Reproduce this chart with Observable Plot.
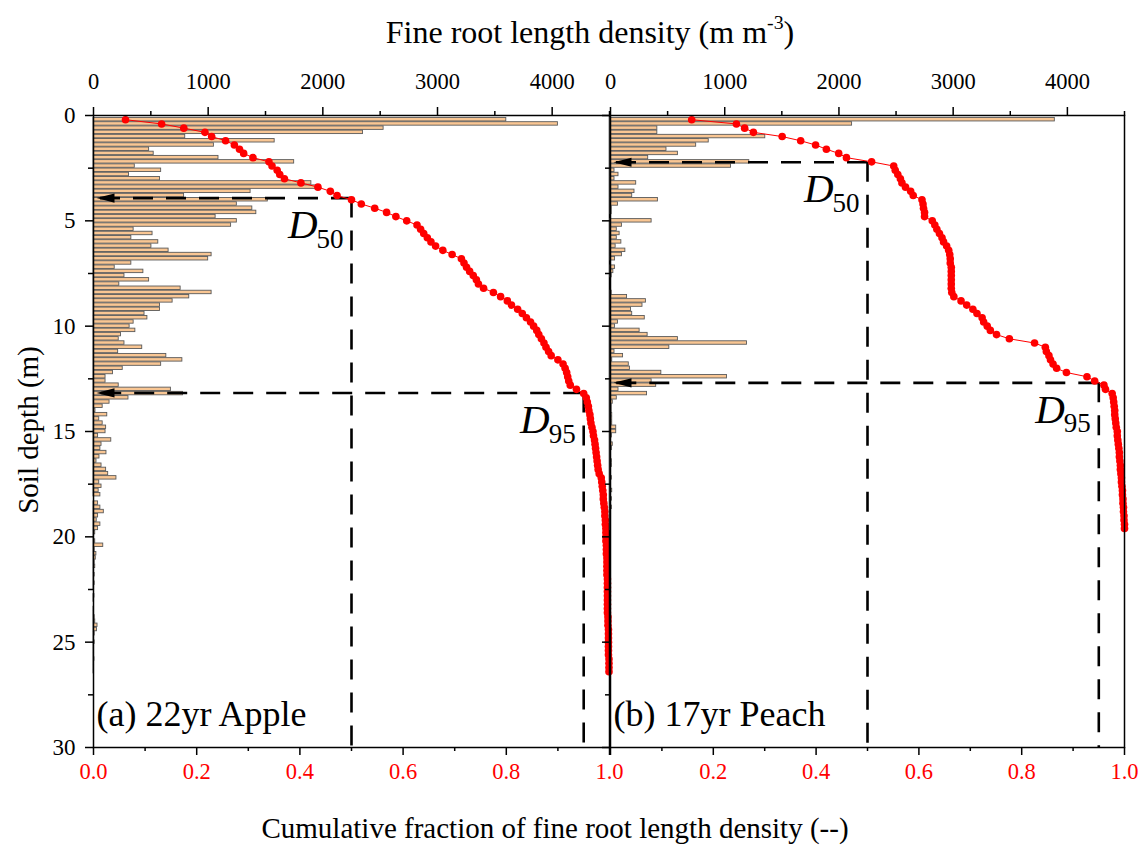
<!DOCTYPE html>
<html><head><meta charset="utf-8">
<script src="https://cdn.jsdelivr.net/npm/d3@7"></script>
<script src="https://cdn.jsdelivr.net/npm/@observablehq/plot@0.6"></script>
<style>
body{margin:0;background:#fff;font-family:"Liberation Serif","Times New Roman",serif;}
#wrap{position:relative;width:1145px;height:845px;overflow:hidden;}
.t{position:absolute;white-space:nowrap;color:#000;font-family:"Liberation Serif","Times New Roman",serif;}
.t sup{font-size:0.62em;vertical-align:0.7em;line-height:0;}
#pa,#pb{position:absolute;top:0;}
#pa{left:0;} #pb{left:600px;}
</style></head><body><div id="wrap">
<div class="t" id="ttop" style="left:590px;top:32px;transform:translate(-50%,-50%);font-size:32px;">Fine root length density (m m<sup>-3</sup>)</div>
<div class="t" id="tleft" style="left:28px;top:430px;transform:translate(-50%,-50%) rotate(-90deg);font-size:29px;">Soil depth (m)</div>
<div class="t" id="tbot" style="left:555px;top:828px;transform:translate(-50%,-50%);font-size:29px;">Cumulative fraction of fine root length density (--)</div>
<div id="pa"></div><div id="pb"></div>
</div>
<script>
// ---------- data ----------
const appleDepth = [
0.2,0.4,0.6,0.8,1.0,1.2,1.4,1.6,1.8,2.0,
2.2,2.4,2.6,2.8,3.0,3.2,3.4,3.6,3.8,4.0,
4.2,4.4,4.6,4.8,5.0,5.2,5.4,5.6,5.8,6.0,
6.2,6.4,6.6,6.8,7.0,7.2,7.4,7.6,7.8,8.0,
8.2,8.4,8.6,8.8,9.0,9.2,9.4,9.6,9.8,10.0,
10.2,10.4,10.6,10.8,11.0,11.2,11.4,11.6,11.8,12.0,
12.2,12.4,12.6,12.8,13.0,13.2,13.4,13.6,13.8,14.0,
14.2,14.4,14.6,14.8,15.0,15.2,15.4,15.6,15.8,16.0,
16.2,16.4,16.6,16.8,17.0,17.2,17.4,17.6,17.8,18.0,
18.2,18.4,18.6,18.8,19.0,19.2,19.4,19.6,19.8,20.0,
20.2,20.4,20.6,20.8,21.0,21.2,21.4,21.6,21.8,22.0,
22.2,22.4,22.6,22.8,23.0,23.2,23.4,23.6,23.8,24.0,
24.2,24.4,24.6,24.8,25.0,25.2,25.4,25.6,25.8,26.0,
26.2,26.4];
const appleDensity = [
3600,4050,2530,2350,800,1580,1050,485,525,1090,
1750,360,590,310,580,1900,1950,1370,790,1520,
1250,1385,1420,1065,1250,1200,350,515,330,565,
505,655,1030,1000,330,185,435,270,485,225,
760,1030,835,690,580,580,445,470,350,315,
365,240,220,270,425,215,635,775,590,255,
170,105,105,220,675,780,305,140,80,17,
120,50,80,110,105,40,155,70,60,113,
52,26,70,110,128,200,50,70,45,60,
0,40,60,90,40,28,60,40,15,5,
15,85,10,25,20,10,15,5,10,5,
10,5,0,8,5,0,5,5,10,15,
35,30,10,5,10,5,5,5,8,5,
5,5];
const appleCumulative = [
0.062,0.132,0.175,0.216,0.229,0.256,0.273,0.283,0.291,0.309,
0.340,0.346,0.356,0.361,0.370,0.402,0.435,0.459,0.472,0.500,
0.519,0.545,0.568,0.586,0.607,0.627,0.634,0.640,0.647,0.654,
0.663,0.677,0.695,0.713,0.718,0.723,0.729,0.736,0.742,0.746,
0.756,0.775,0.789,0.802,0.810,0.822,0.831,0.839,0.847,0.853,
0.859,0.863,0.868,0.873,0.877,0.882,0.887,0.900,0.910,0.914,
0.917,0.919,0.921,0.924,0.936,0.950,0.955,0.957,0.959,0.960,
0.962,0.963,0.964,0.966,0.968,0.969,0.971,0.972,0.973,0.974,
0.975,0.976,0.977,0.978,0.980,0.984,0.985,0.986,0.987,0.988,
0.988,0.989,0.990,0.991,0.991,0.992,0.992,0.993,0.993,0.993,
0.993,0.994,0.994,0.994,0.995,0.995,0.995,0.995,0.995,0.996,
0.996,0.996,0.996,0.996,0.996,0.996,0.996,0.996,0.997,0.997,
0.997,0.998,0.998,0.998,0.998,0.998,0.998,0.998,0.999,0.999,
0.999,0.999];

const peachDepth = [
0.2,0.4,0.6,0.8,1.0,1.2,1.4,1.6,1.8,2.0,
2.2,2.4,2.6,2.8,3.0,3.2,3.4,3.6,3.8,4.0,
4.2,4.4,4.6,4.8,5.0,5.2,5.4,5.6,5.8,6.0,
6.2,6.4,6.6,6.8,7.0,7.2,7.4,7.6,7.8,8.0,
8.2,8.4,8.6,8.8,9.0,9.2,9.4,9.6,9.8,10.0,
10.2,10.4,10.6,10.8,11.0,11.2,11.4,11.6,11.8,12.0,
12.2,12.4,12.6,12.8,13.0,13.2,13.4,13.6,13.8,14.0,
14.2,14.4,14.6,14.8,15.0,15.2,15.4,15.6,15.8,16.0,
16.2,16.4,16.6,16.8,17.0,17.2,17.4,17.6,17.8,18.0,
18.2,18.4,18.6,18.8,19.0,19.2,19.4,19.6];
const peachDensity = [
3890,2115,410,410,1355,860,750,490,590,330,
1215,1055,35,70,35,225,70,210,190,415,
65,10,10,0,360,100,55,80,55,95,
45,130,100,40,0,40,25,10,0,0,
0,10,145,310,280,180,190,300,65,40,
255,325,590,1195,515,35,110,15,160,170,
445,1020,360,400,70,320,55,20,10,10,
15,15,15,50,50,12,5,20,12,5,
5,12,12,5,5,12,5,5,15,5,
12,5,12,5,5,5,5,5];
const peachCumulative = [
0.158,0.245,0.261,0.278,0.334,0.370,0.399,0.420,0.444,0.459,
0.508,0.551,0.554,0.559,0.564,0.567,0.574,0.584,0.589,0.606,
0.608,0.609,0.611,0.611,0.626,0.631,0.635,0.640,0.645,0.648,
0.654,0.658,0.660,0.661,0.661,0.663,0.663,0.663,0.663,0.663,
0.663,0.664,0.668,0.682,0.693,0.705,0.713,0.723,0.726,0.733,
0.739,0.751,0.776,0.825,0.846,0.848,0.853,0.856,0.861,0.868,
0.887,0.927,0.942,0.960,0.963,0.976,0.978,0.979,0.980,0.981,
0.981,0.982,0.983,0.984,0.986,0.986,0.987,0.988,0.989,0.990,
0.990,0.991,0.992,0.992,0.993,0.994,0.994,0.995,0.996,0.996,
0.997,0.997,0.998,0.998,0.999,0.999,1.000,1.000];

// D50 / D95 (fraction level, depth)
const dLevels = [0.5, 0.95];
const dSubscripts = ["50", "95"];
const appleDdepth = [3.92, 13.17];
const peachDdepth = [2.22, 12.69];

const panelLabels = ["(a) 22yr Apple", "(b) 17yr Peach"];

// axis ticks
const densityMax = 4500;
const densityTicks = [0, 1000, 2000, 3000, 4000];
const densityMinorTicks = [500, 1500, 2500, 3500, 4500];
const fractionTicks = [0, 0.2, 0.4, 0.6, 0.8, 1.0];
const fractionMinorTicks = [0.1, 0.3, 0.5, 0.7, 0.9];
const depthTicks = [0, 5, 10, 15, 20, 25, 30];
const depthMinorTicks = [2.5, 7.5, 12.5, 17.5, 22.5, 27.5];
const depthMax = 30;

// ---------- drawing ----------
const FONT = '"Liberation Serif","Times New Roman",serif';
const BAR_HALF = 0.082;
const leftArrow = {draw(ctx) { ctx.moveTo(-9, 0); ctx.lineTo(9, -4.6); ctx.lineTo(9, 4.6); ctx.closePath(); }};

function panel({depth, density, cum, Ddepth, label, width, marginLeft, marginRight, first}) {
  const bars = depth.map((d, i) => ({d, v: density[i]}));
  const pts = depth.map((d, i) => ({d, c: cum[i] * densityMax}));
  const dl = dLevels.map((f, i) => ({x: f * densityMax, d: Ddepth[i], sub: dSubscripts[i]}));
  const dash = {stroke: "black", strokeWidth: 2.6, strokeDasharray: "20,13"};
  return Plot.plot({
    width, height: 845,
    marginTop: 115, marginBottom: 98, marginLeft, marginRight,
    x: {domain: [0, densityMax]},
    y: {domain: [0, depthMax], reverse: true},
    style: {fontFamily: FONT, fontSize: "22px", background: "transparent", color: "black", overflow: "visible"},
    marks: [
      Plot.rect(bars, {x1: 0, x2: "v", y1: b => b.d - BAR_HALF, y2: b => b.d + BAR_HALF,
        fill: "#f9c693", stroke: "#5a5a5a", strokeWidth: 0.9}),
      Plot.ruleY(dl, {y: "d", x1: "x", x2: 0, ...dash}),
      Plot.ruleX(dl, {x: "x", y1: "d", y2: depthMax, ...dash}),
      Plot.line(pts, {x: "c", y: "d", stroke: "red", strokeWidth: 1}),
      Plot.dot(pts, {x: "c", y: "d", r: 3.8, fill: "red", stroke: "none"}),
      Plot.dot(dl, {x: 0, y: "d", symbol: leftArrow, fill: "black", stroke: "none", dx: 12}),
      Plot.text(dl, {x: "x", y: "d", text: () => "D", textAnchor: "end", dx: -34, dy: 27,
        fontSize: 41, fontStyle: "italic", fill: "black"}),
      Plot.text(dl, {x: "x", y: "d", text: "sub", textAnchor: "end", dx: -8, dy: 41,
        fontSize: 27, fill: "black"}),
      Plot.text([label], {frameAnchor: "bottom-left", text: d => d, textAnchor: "start", dx: 3, dy: -22,
        fontSize: 36, fill: "black"}),
      Plot.frame({stroke: "black", strokeWidth: 1.5}),
      // top axis (density)
      Plot.axisX(densityTicks, {anchor: "top", tickSize: 9, tickPadding: 18, strokeWidth: 1.5, label: null,
        fontSize: 22.5, tickFormat: d => String(d)}),
      Plot.axisX(densityMinorTicks, {anchor: "top", tickSize: 5, strokeWidth: 1.5, label: null, tickFormat: () => ""}),
      // bottom axis (cumulative fraction)
      Plot.axisX(fractionTicks.map(f => f * densityMax), {anchor: "bottom", tickSize: 8, tickPadding: 8,
        strokeWidth: 1.5, label: null, fontSize: 22.5, fill: "red",
        tickFormat: v => (!first && v === 0) ? "" : (v / densityMax).toFixed(1)}),
      Plot.axisX(fractionMinorTicks.map(f => f * densityMax), {anchor: "bottom", tickSize: 4, strokeWidth: 1.5,
        label: null, tickFormat: () => ""}),
      // depth axis
      Plot.axisY(depthTicks, {anchor: "left", tickSize: 8, tickPadding: 10, strokeWidth: 1.5, label: null,
        fontSize: 23, tickFormat: first ? (d => String(d)) : (() => "")}),
      Plot.axisY(depthMinorTicks, {anchor: "left", tickSize: 5, strokeWidth: 1.5, label: null, tickFormat: () => ""})
    ]
  });
}

document.getElementById("pa").append(panel({
  depth: appleDepth, density: appleDensity, cum: appleCumulative, Ddepth: appleDdepth,
  label: panelLabels[0], width: 612, marginLeft: 93, marginRight: 3, first: true
}));
document.getElementById("pb").append(panel({
  depth: peachDepth, density: peachDensity, cum: peachCumulative, Ddepth: peachDdepth,
  label: panelLabels[1], width: 545, marginLeft: 10, marginRight: 21, first: false
}));
</script>
</body></html>
